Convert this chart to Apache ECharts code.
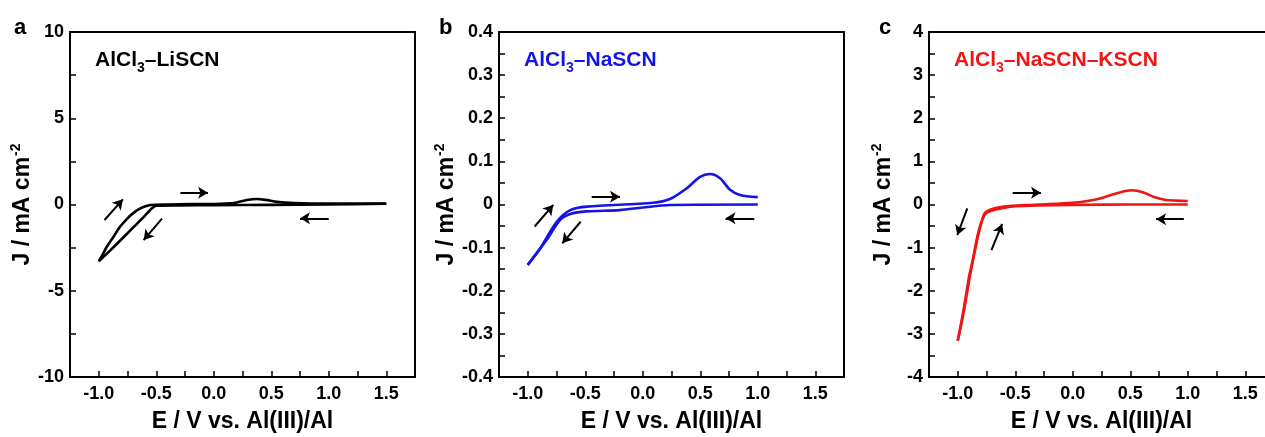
<!DOCTYPE html>
<html>
<head>
<meta charset="utf-8">
<title>CV curves</title>
<script src="https://cdn.jsdelivr.net/npm/echarts@6/dist/echarts.min.js"></script>
</head>
<body style="margin:0; overflow:hidden">
<div id="container" style="width:1290px;height:437px"></div>
<script>
// a: AlCl3-LiSCN  (E in V, J in mA cm-2)
var liE_down = [1.5, 1.0, 0.5, 0.0, -0.3, -0.5, -0.55, -0.6, -0.7, -0.8, -0.9, -1.0];
var liJ_down = [0.04, 0.0, -0.02, -0.04, -0.05, -0.07, -0.3, -0.66, -1.33, -2.0, -2.66, -3.3];
var liE_up = [-1.0, -0.97, -0.93, -0.87, -0.815, -0.75, -0.7, -0.65, -0.6, -0.55, -0.4, -0.2, 0.0, 0.1, 0.2, 0.3, 0.37, 0.45, 0.55, 0.7, 1.0, 1.5];
var liJ_up = [-3.3, -2.95, -2.45, -1.85, -1.29, -0.8, -0.5, -0.27, -0.12, -0.03, 0.0, 0.02, 0.03, 0.05, 0.12, 0.27, 0.32, 0.27, 0.15, 0.08, 0.05, 0.05];
// b: AlCl3-NaSCN
var naE_down = [1.0, 0.24, 0.0, -0.2, -0.49, -0.63, -0.72, -0.835, -1.0];
var naJ_down = [0.0, -0.001, -0.007, -0.013, -0.016, -0.022, -0.036, -0.082, -0.14];
var naE_up = [-1.0, -0.893, -0.748, -0.63, -0.487, 0.09, 0.237, 0.382, 0.498, 0.585, 0.672, 0.759, 0.846, 1.0];
var naJ_up = [-0.14, -0.102, -0.04, -0.013, -0.005, 0.004, 0.0128, 0.0375, 0.064, 0.0707, 0.061, 0.034, 0.022, 0.017];
// c: AlCl3-NaSCN-KSCN
var kE_down = [1.0, 0.5, 0.0, -0.3, -0.5, -0.6, -0.7, -0.76, -0.8, -0.83, -0.87, -0.9, -0.95, -1.0];
var kJ_down = [0.0, 0.0, -0.01, -0.02, -0.04, -0.08, -0.14, -0.22, -0.45, -0.75, -1.3, -1.65, -2.45, -3.16];
var kE_up = [-1.0, -0.945, -0.89, -0.825, -0.79, -0.765, -0.72, -0.6, -0.4, -0.2, 0.0, 0.1, 0.237, 0.382, 0.512, 0.614, 0.7, 0.8, 0.9, 1.0];
var kJ_up = [-3.16, -2.45, -1.6, -0.75, -0.38, -0.2, -0.12, -0.05, -0.01, 0.01, 0.04, 0.07, 0.14, 0.26, 0.33, 0.28, 0.18, 0.11, 0.09, 0.08];

// scan direction arrows [E1, J1, E2, J2]
var arrowsA = [[-0.95, -0.9, -0.79, 0.3], [-0.45, -0.82, -0.61, -2.06], [-0.29, 0.68, -0.05, 0.68], [1.0, -0.8, 0.75, -0.8]];
var arrowsB = [[-0.94, -0.051, -0.778, -0.001], [-0.54, -0.04, -0.70, -0.09], [-0.444, 0.018, -0.198, 0.018], [0.97, -0.032, 0.72, -0.032]];
var arrowsC = [[-0.917, -0.09, -1.004, -0.71], [-0.707, -1.06, -0.614, -0.45], [-0.522, 0.27, -0.276, 0.27], [0.966, -0.34, 0.725, -0.34]];

var FONT = "'Liberation Sans', Arial, sans-serif";

function zip(xs, ys) {
    return xs.map(function (x, i) { return [x, ys[i]]; });
}

function arrowLines(list) {
    return list.map(function (a) {
        return [{ coord: [a[0], a[1]] }, { coord: [a[2], a[3]] }];
    });
}

function xAx(idx) {
    return {
        type: 'value', gridIndex: idx, min: -1.25, max: 1.75, interval: 0.25,
        name: 'E / V vs. Al(III)/Al', nameLocation: 'middle', nameGap: 33,
        nameTextStyle: { fontFamily: FONT, fontWeight: 'bold', fontSize: 23, color: '#000' },
        axisLine: { onZero: false, lineStyle: { color: '#000', width: 2 } },
        axisTick: { inside: true, length: 6, lineStyle: { color: '#000', width: 1.5 } },
        splitLine: { show: false },
        axisLabel: {
            margin: 8, fontFamily: FONT, fontWeight: 'bold', fontSize: 18, color: '#000',
            showMinLabel: true, showMaxLabel: true,
            formatter: function (v) {
                if (v < -1.01 || v > 1.51) return '';
                if (Math.abs(v * 2 - Math.round(v * 2)) > 1e-6) return '';
                return v.toFixed(1);
            }
        }
    };
}

function yAx(idx, min, max, step, labelStep, dec) {
    return {
        type: 'value', gridIndex: idx, min: min, max: max, interval: step,
        name: '{t|J / mA cm}{sup|-2}', nameLocation: 'middle', nameGap: 32,
        nameTextStyle: {
            rich: {
                t: { fontFamily: FONT, fontWeight: 'bold', fontSize: 23, color: '#000' },
                sup: { fontFamily: FONT, fontWeight: 'bold', fontSize: 14, color: '#000', padding: [0, 0, 13, 1] }
            }
        },
        axisLine: { onZero: false, lineStyle: { color: '#000', width: 2 } },
        axisTick: { inside: true, length: 6, lineStyle: { color: '#000', width: 1.5 } },
        splitLine: { show: false },
        axisLabel: {
            margin: 6, fontFamily: FONT, fontWeight: 'bold', fontSize: 18, color: '#000',
            showMinLabel: true, showMaxLabel: true,
            formatter: function (v) {
                var k = v / labelStep;
                if (Math.abs(k - Math.round(k)) > 1e-6) return '';
                if (Math.abs(v) < 1e-9) return '0';
                return v.toFixed(dec);
            }
        }
    };
}

// plain frame lines (top / right), no ticks or labels
function frameAx(idx, pos) {
    return {
        type: 'value', gridIndex: idx, position: pos, min: 0, max: 1,
        axisLine: { onZero: false, lineStyle: { color: '#000', width: 2 } },
        axisTick: { show: false }, axisLabel: { show: false }, splitLine: { show: false }
    };
}

function curve(idx, data, color) {
    return {
        type: 'line', xAxisIndex: idx, yAxisIndex: idx, data: data,
        showSymbol: false, smooth: 0.3, silent: true,
        lineStyle: { color: color, width: 2.6 }
    };
}

function arrows(idx, list) {
    return {
        type: 'line', xAxisIndex: idx, yAxisIndex: idx, data: [], silent: true,
        markLine: {
            silent: true, symbol: ['none', 'arrow'], symbolSize: [9, 10],
            label: { show: false },
            lineStyle: { color: '#000', width: 2, type: 'solid' },
            data: arrowLines(list)
        }
    };
}

function tag(left, text, color) {
    return {
        left: left, top: 41, text: text,
        textStyle: {
            rich: {
                t: { fontFamily: FONT, fontWeight: 'bold', fontSize: 21, color: color },
                sub: { fontFamily: FONT, fontWeight: 'bold', fontSize: 14, color: color, padding: [15, 0, 0, 0] }
            }
        }
    };
}

function letter(left, text) {
    return { left: left, top: 12, text: text, textStyle: { fontFamily: FONT, fontWeight: 'bold', fontSize: 22, color: '#000' } };
}

function grid(left) {
    return { left: left, top: 32, width: 345, height: 345, outerBoundsMode: 'none', containLabel: false };
}

var chart = echarts.init(document.getElementById('container'));
chart.setOption({
    animation: false,
    backgroundColor: '#fff',
    title: [
        letter(9, 'a'), letter(434, 'b'), letter(874, 'c'),
        tag(90, '{t|AlCl}{sub|3}{t|–LiSCN}', '#000'),
        tag(519, '{t|AlCl}{sub|3}{t|–NaSCN}', '#1414e6'),
        tag(949, '{t|AlCl}{sub|3}{t|–NaSCN–KSCN}', '#f01414')
    ],
    grid: [grid(70), grid(499), grid(929)],
    xAxis: [xAx(0), xAx(1), xAx(2), frameAx(0, 'top'), frameAx(1, 'top'), frameAx(2, 'top')],
    yAxis: [
        yAx(0, -10, 10, 2.5, 5, 0),
        yAx(1, -0.4, 0.4, 0.05, 0.1, 1),
        yAx(2, -4, 4, 0.5, 1, 0),
        frameAx(0, 'right'), frameAx(1, 'right'), frameAx(2, 'right')
    ],
    series: [
        curve(0, zip(liE_down, liJ_down), '#000'),
        curve(0, zip(liE_up, liJ_up), '#000'),
        curve(1, zip(naE_down, naJ_down), '#1414e6'),
        curve(1, zip(naE_up, naJ_up), '#1414e6'),
        curve(2, zip(kE_down, kJ_down), '#f01414'),
        curve(2, zip(kE_up, kJ_up), '#f01414'),
        arrows(0, arrowsA), arrows(1, arrowsB), arrows(2, arrowsC)
    ]
});
</script>
</body>
</html>
